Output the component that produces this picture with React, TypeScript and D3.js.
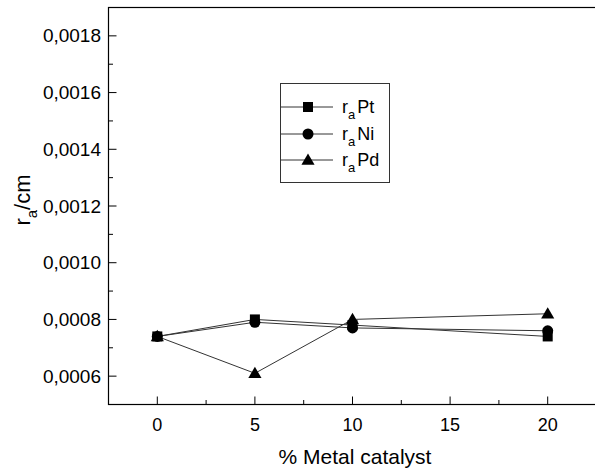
import React from "react";
import * as d3 from "d3";

const catalystPct = [0, 5, 10, 20];
const rPt = [0.00074, 0.0008, 0.00078, 0.00074];
const rNi = [0.00074, 0.00079, 0.00077, 0.00076];
const rPd = [0.00074, 0.00061, 0.0008, 0.00082];
const seriesNames = ["Pt", "Ni", "Pd"];
const yTicks = [0.0006, 0.0008, 0.001, 0.0012, 0.0014, 0.0016, 0.0018];
const xTicks = [0, 5, 10, 15, 20];

const W = 595;
const H = 468;
const left = 108.5;
const top = 7.5;
const bottom = 404.5;
const right = 596.5;

const x = d3.scaleLinear().domain([-2.5, 22.5]).range([left, right]);
const y = d3.scaleLinear().domain([0.0005, 0.0019]).range([bottom, top]);

const font = "'Liberation Sans', Arial, Helvetica, sans-serif";

function Marker({ kind, cx, cy }: { kind: string; cx: number; cy: number }) {
  if (kind === "Pt") return <rect x={cx - 5} y={cy - 5} width={10} height={10} fill="#000" />;
  if (kind === "Ni") return <circle cx={cx} cy={cy} r={5.5} fill="#000" />;
  const sym = d3.symbol().type(d3.symbolTriangle).size(75)();
  return <path d={sym || ""} transform={`translate(${cx},${cy + 1})`} fill="#000" />;
}

export default function App() {
  const series = [rPt, rNi, rPd];
  const line = d3
    .line<number>()
    .x((_, i) => x(catalystPct[i]))
    .y((v) => y(v));
  const minorX = d3.range(-2.5, 22.6, 2.5).filter((v) => v % 5 !== 0);
  const minorY = d3.range(0.0005, 0.00191, 0.0001).filter((v) => !yTicks.some((t) => Math.abs(t - v) < 1e-9));
  const legendY = [107, 134, 160];
  return (
    <svg width={W} height={H} style={{ position: "absolute", left: 0, top: 0, background: "#fff" }}>
      <rect width={W} height={H} fill="#fff" />
      <rect x={left} y={top} width={right - left} height={bottom - top} fill="none" stroke="#000" strokeWidth={1.2} />
      {xTicks.map((t) => (
        <g key={`xt${t}`}>
          <line x1={x(t)} x2={x(t)} y1={bottom} y2={bottom - 8} stroke="#000" />
          <text x={x(t)} y={431} textAnchor="middle" fontFamily={font} fontSize={18}>
            {t}
          </text>
        </g>
      ))}
      {minorX.map((t) => (
        <line key={`xm${t}`} x1={x(t)} x2={x(t)} y1={bottom} y2={bottom - 4.5} stroke="#000" />
      ))}
      {yTicks.map((t) => (
        <g key={`yt${t}`}>
          <line x1={left} x2={left + 8} y1={y(t)} y2={y(t)} stroke="#000" />
          <text x={101} y={y(t) + 6.5} textAnchor="end" fontFamily={font} fontSize={19}>
            {d3.format(".4f")(t).replace(".", ",")}
          </text>
        </g>
      ))}
      {minorY.map((t) => (
        <line key={`ym${t}`} x1={left} x2={left + 4.5} y1={y(t)} y2={y(t)} stroke="#000" />
      ))}
      {series.map((s, i) => (
        <path key={`l${i}`} d={line(s) || ""} fill="none" stroke="#333" strokeWidth={1} />
      ))}
      {series.map((s, i) =>
        s.map((v, j) => <Marker key={`m${i}-${j}`} kind={seriesNames[i]} cx={x(catalystPct[j])} cy={y(v)} />)
      )}
      <rect x={280.5} y={83.5} width={109} height={99} fill="#fff" stroke="#333" strokeWidth={1} />
      {seriesNames.map((n, i) => (
        <g key={`lg${n}`}>
          <line x1={281} x2={333} y1={legendY[i]} y2={legendY[i]} stroke="#333" />
          <Marker kind={n} cx={308} cy={legendY[i]} />
          <text x={342} y={legendY[i] + 6} fontFamily={font} fontSize={18}>
            r<tspan fontSize={13} dy={6}>a</tspan>
            <tspan dy={-6} dx={2}>{n}</tspan>
          </text>
        </g>
      ))}
      <text
        transform={`translate(30,200) rotate(-90)`}
        textAnchor="middle"
        fontFamily={font}
        fontSize={22}
      >
        r<tspan fontSize={15} dy={7}>a</tspan>
        <tspan dy={-7}>/cm</tspan>
      </text>
      <text x={355} y={464} textAnchor="middle" fontFamily={font} fontSize={21}>
        % Metal catalyst
      </text>
    </svg>
  );
}
